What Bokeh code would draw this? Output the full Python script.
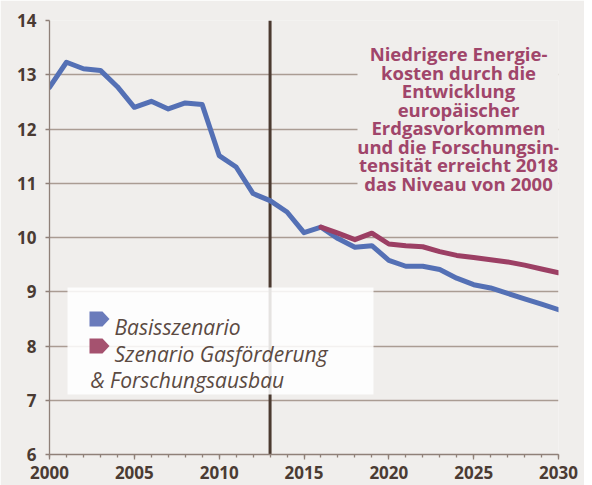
from bokeh.plotting import figure
from bokeh.models import FixedTicker, Range1d
from bokeh.embed import file_html
from bokeh.resources import INLINE
from bokeh.core.properties import value

# ---------------- data ----------------
years_basis = list(range(2000, 2031))
basis = [12.77, 13.23, 13.11, 13.08, 12.78, 12.40, 12.51, 12.37, 12.48, 12.45,
         11.51, 11.30, 10.81, 10.68, 10.47, 10.09, 10.19, 9.98, 9.82, 9.85,
         9.58, 9.47, 9.47, 9.41, 9.25, 9.13, 9.07, 8.97, 8.87, 8.77, 8.67]
years_gas = list(range(2016, 2031))
gas = [10.19, 10.08, 9.96, 10.08, 9.88, 9.85, 9.83, 9.74, 9.67, 9.63,
       9.59, 9.55, 9.49, 9.42, 9.35]
base_year = 2013
x_ticks = [2000, 2005, 2010, 2015, 2020, 2025, 2030]
y_ticks = [6, 7, 8, 9, 10, 11, 12, 13, 14]
legend_labels = ["Basisszenario", "Szenario Gasförderung", "& Forschungsausbau"]
note_lines = ["Niedrigere Energie-", "kosten durch die", "Entwicklung",
              "europäischer", "Erdgasvorkommen", "und die Forschungsin-",
              "tensität erreicht 2018", "das Niveau von 2000"]

# ---------------- style ----------------
BG = "#f0eeec"
BLUE = "#5470b5"
RED = "#9c3f64"
BLUE_M = "#6a7bbb"
RED_M = "#a5526f"
GRID = "#aa9c93"
AXIS = "#8f8078"
TXT = "#4a3b33"
NOTE = "#a0456a"
LEG_TXT = "#5b4a42"
FONT = "Open Sans"

X0, X1, Y0, Y1 = 2000, 2030, 6, 14
FW, FH = 509, 434
FL, FT = 49, 20  # frame offset inside figure

def dx(px):  # image pixel -> data x
    return X0 + (px - FL) * (X1 - X0) / FW

def dy(py):  # image pixel -> data y
    return Y1 - (py - FT) * (Y1 - Y0) / FH

p = figure(frame_width=FW, frame_height=FH, output_backend="svg",
           toolbar_location=None, x_range=Range1d(X0, X1), y_range=Range1d(Y0, Y1),
           min_border_left=FL, min_border_top=FT, min_border_right=26,
           min_border_bottom=31, background_fill_color=BG, border_fill_color=BG,
           outline_line_color=None)

p.xgrid.grid_line_color = None
p.ygrid.grid_line_color = GRID
p.ygrid.grid_line_width = 1.3
p.ygrid.ticker = FixedTicker(ticks=y_ticks)

p.xaxis.ticker = FixedTicker(ticks=x_ticks, minor_ticks=list(range(2000, 2031)))
p.yaxis.ticker = FixedTicker(ticks=y_ticks)
for ax in (p.xaxis, p.yaxis):
    ax.axis_line_color = AXIS
    ax.axis_line_width = 1.3
    ax.major_tick_line_color = AXIS
    ax.major_tick_line_width = 1.3
    ax.minor_tick_line_color = AXIS
    ax.minor_tick_line_width = 1.3
    ax.major_tick_in = 0
    ax.minor_tick_in = 0
    ax.major_label_text_font = FONT
    ax.major_label_text_font_style = "bold"
    ax.major_label_text_font_size = "17px"
    ax.major_label_text_color = TXT
p.xaxis.major_tick_out = 5
p.xaxis.minor_tick_out = 3
p.xaxis.major_label_standoff = 6
p.yaxis.major_tick_out = 4
p.yaxis.minor_tick_out = 0
p.yaxis.minor_tick_line_color = None
p.yaxis.major_label_standoff = 9

# note background (hides grid lines behind the text)
p.quad(left=[dx(357)], right=[X1], top=[dy(24)], bottom=[dy(200)],
       fill_color=BG, line_color=None)

# base year line
p.segment(x0=[base_year], y0=[Y0], x1=[base_year], y1=[Y1],
          line_color="#4b3a30", line_width=3)

# series
p.line(years_basis, basis, line_color=BLUE, line_width=5, line_join="round", line_cap="round")
p.line(years_gas, gas, line_color=RED, line_width=5, line_join="round", line_cap="round")

# legend box
p.quad(left=[dx(67)], right=[dx(373)], top=[dy(287)], bottom=[dy(394)],
       fill_color="white", fill_alpha=0.86, line_color=None)

def pent(cy, color):
    xs = [dx(89), dx(102), dx(109), dx(102), dx(89)]
    ys = [dy(cy - 7.5), dy(cy - 7.5), dy(cy), dy(cy + 7.5), dy(cy + 7.5)]
    p.patch(xs, ys, fill_color=color, line_color=None)

pent(318.5, BLUE_M)
pent(345.5, RED_M)

p.text(x=[dx(114), dx(114), dx(90)], y=[dy(326), dy(353), dy(379.5)], text=legend_labels,
       text_font=value(FONT), text_font_style="italic", text_font_size="21px",
       text_color=LEG_TXT, text_align="left", text_baseline="alphabetic")

# note text
pitch = 18.49
p.text(x=[dx(458)] * len(note_lines),
       y=[dy(53.3 + i * pitch) for i in range(len(note_lines))],
       text=note_lines, text_font=value(FONT), text_font_style="bold",
       text_font_size="18.5px", text_color=NOTE, text_align="center",
       text_baseline="alphabetic")

open("out.html", "w").write(file_html(p, INLINE))
